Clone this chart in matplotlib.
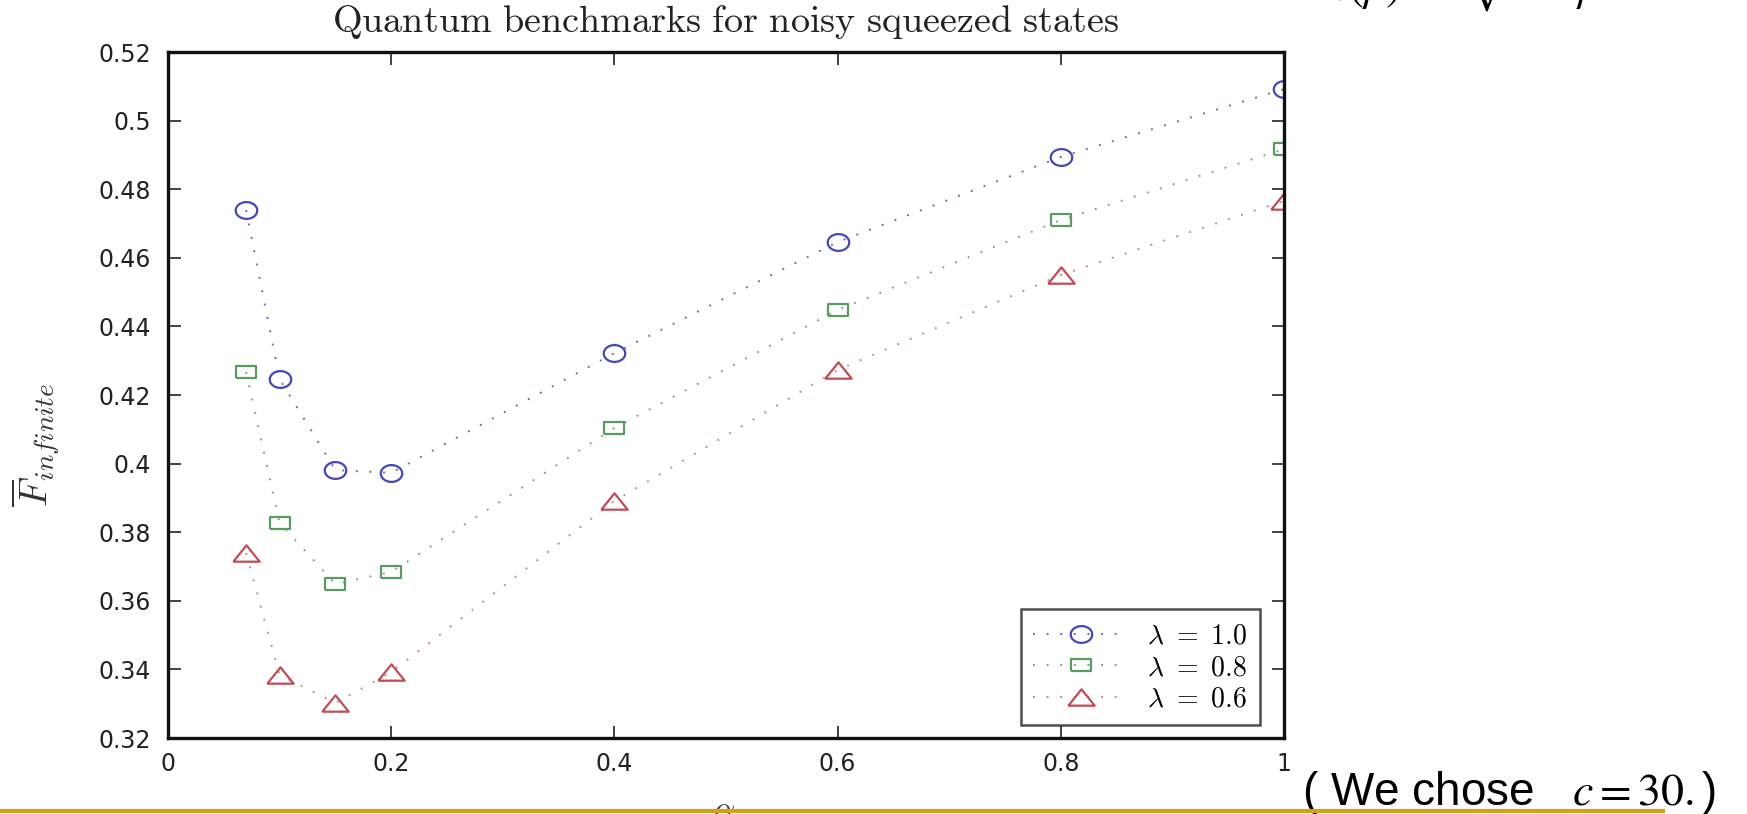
import numpy as np
import matplotlib
matplotlib.use("Agg")
from matplotlib import pyplot as plt
from matplotlib.lines import Line2D
from matplotlib.font_manager import FontProperties

plt.rcParams['font.family'] = ['DejaVu Sans']
plt.rcParams['mathtext.fontset'] = 'cm'

# data
alpha = [0.07, 0.1, 0.15, 0.2, 0.4, 0.6, 0.8, 1.0]
f_lam10 = [0.4739, 0.4247, 0.3981, 0.3973, 0.4322, 0.4646, 0.4894, 0.5092]
f_lam08 = [0.4267, 0.3827, 0.3649, 0.3684, 0.4104, 0.4448, 0.4710, 0.4917]
f_lam06 = [0.3739, 0.3384, 0.3302, 0.3392, 0.3891, 0.4273, 0.4550, 0.4766]
labels = [r'$\lambda\ =\ 1.0$', r'$\lambda\ =\ 0.8$', r'$\lambda\ =\ 0.6$']

xticks = [0, 0.2, 0.4, 0.6, 0.8, 1]
xticklabels = ['0', '0.2', '0.4', '0.6', '0.8', '1']
yticks = [0.32, 0.34, 0.36, 0.38, 0.40, 0.42, 0.44, 0.46, 0.48, 0.50, 0.52]
yticklabels = ['0.32', '0.34', '0.36', '0.38', '0.4', '0.42', '0.44', '0.46',
               '0.48', '0.5', '0.52']

W, H = 1747, 814
fig = plt.figure(figsize=(W / 100, H / 100), dpi=100)
ax = fig.add_axes([168 / W, (H - 738) / H, 1116 / W, 686 / H])

# the source image is stretched sideways, so markers are wider than tall
t = np.linspace(0, 2 * np.pi, 48)
ellipse = np.column_stack([np.cos(t), 0.78 * np.sin(t)])
rect = [(-1, -0.65), (1, -0.65), (1, 0.65), (-1, 0.65), (-1, -0.65)]
tri = [(-1, -0.62), (1, -0.62), (0, 0.62), (-1, -0.62)]

dots = (0, (1, 6))
ax.plot(alpha, f_lam10, linestyle=dots, lw=1.4, color='#7070a8',
        marker=ellipse, ms=15.5, mfc='none', mec='#4646b4', mew=1.6,
        label=labels[0])
ax.plot(alpha, f_lam08, linestyle=dots, lw=1.4, color='#88a08a',
        marker=rect, ms=14, mfc='none', mec='#5c9a64', mew=1.6,
        label=labels[1])
ax.plot(alpha, f_lam06, linestyle=dots, lw=1.4, color='#c08c90',
        marker=tri, ms=19, mfc='none', mec='#c04c58', mew=1.6,
        label=labels[2])

ax.set_xlim(0, 1)
ax.set_ylim(0.32, 0.52)
ax.set_xticks(xticks)
ax.set_xticklabels(xticklabels)
ax.set_yticks(yticks)
ax.set_yticklabels(yticklabels)
ax.tick_params(direction='in', length=9, width=1.2, top=True, right=True,
               labelsize=17, colors='#222222')
ax.tick_params(axis='y', pad=12)
ax.tick_params(axis='x', pad=10)
for s in ax.spines.values():
    s.set_linewidth(2.4)
    s.set_color('#111111')

leg = ax.legend(loc='lower right', bbox_to_anchor=((1260 - 168) / 1116, (738 - 725) / 686),
                borderaxespad=0, fancybox=False, edgecolor='#222222',
                prop=FontProperties(size=20, math_fontfamily='cm'),
                handlelength=3.4, handletextpad=0.7, labelspacing=0.12,
                borderpad=0.45, numpoints=1)
leg.get_frame().set_linewidth(1.8)

fig.text(726 / W, 1 - 32 / H, r'$\mathrm{Quantum\ benchmarks\ for\ noisy\ squeezed\ states}$',
         fontsize=27.5, ha='center', va='baseline', color='#222222')
fig.text(36 / W, 1 - 445 / H, r'$\overline{F}_{infinite}$', fontsize=28,
         rotation=90, ha='center', va='center', color='#333333')
fig.text(724 / W, 4 / H, r'$\alpha$', fontsize=24, ha='center', va='center',
         color='#444444')

# slide text around the chart
fig.text(1318 / W, 1 - 1 / H, r'$N(\rho)\ =\ \sqrt{1-\rho}$', fontsize=32,
         ha='left', va='baseline', math_fontfamily='stix', color='black')
fig.text(1302 / W, 1 - 805 / H, '( We chose   $c = 30.$)', fontsize=33,
         family='Liberation Sans', math_fontfamily='stix', ha='left',
         va='baseline', color='black')
fig.add_artist(Line2D([0, 1663 / W], [3 / H, 3 / H], transform=fig.transFigure,
                      color='#D4A017', lw=3, zorder=5))

fig.savefig('out.png', dpi=100)
